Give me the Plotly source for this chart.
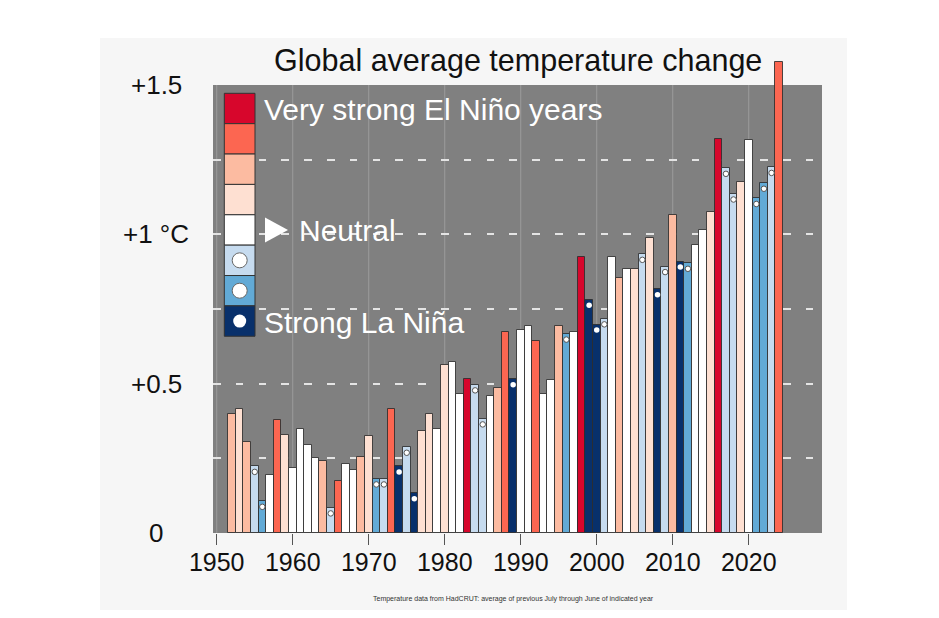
import plotly.graph_objects as go

# ---------------- data ----------------
years = list(range(1952, 2025))
anomaly = [
    0.397, 0.414, 0.304, 0.223, 0.106, 0.194, 0.377, 0.327, 0.217, 0.348,
    0.295, 0.250, 0.240, 0.084, 0.174, 0.231, 0.211, 0.253, 0.324, 0.181,
    0.181, 0.415, 0.223, 0.287, 0.133, 0.343, 0.400, 0.348, 0.562, 0.573,
    0.467, 0.514, 0.496, 0.382, 0.459, 0.484, 0.673, 0.515, 0.680, 0.693,
    0.642, 0.467, 0.512, 0.693, 0.666, 0.672, 0.925, 0.781, 0.698, 0.717,
    0.923, 0.853, 0.884, 0.883, 0.933, 0.988, 0.816, 0.892, 1.065, 0.909,
    0.903, 0.963, 1.015, 1.075, 1.319, 1.221, 1.135, 1.175, 1.316, 1.120,
    1.171, 1.224, 1.576,
]
# ENSO class: 1 = very strong El Nino ... 5 = neutral ... 8 = strong La Nina
enso_class = [
    3, 4, 3, 6, 7, 5, 2, 4, 5, 5,
    5, 5, 3, 6, 2, 5, 5, 3, 4, 7,
    6, 2, 8, 6, 8, 4, 4, 5, 4, 5,
    5, 1, 6, 6, 5, 3, 2, 8, 5, 5,
    2, 5, 5, 3, 7, 5, 1, 8, 8, 6,
    5, 3, 5, 4, 6, 4, 8, 6, 3, 8,
    7, 5, 5, 4, 1, 6, 6, 4, 5, 7,
    7, 6, 2,
]
class_colors = ["#d7062c", "#fc6651", "#fcbba1", "#fee0d2",
                "#ffffff", "#c6dbef", "#62aad6", "#08306b"]
legend_labels = {1: "Very strong El Niño years", 5: "Neutral", 8: "Strong La Niña"}
x_tick_vals = [1950, 1960, 1970, 1980, 1990, 2000, 2010, 2020]
y_grid_vals = [0.25, 0.5, 0.75, 1.0, 1.25]
y_label_vals = [0, 0.5, 1.0, 1.5]
y_label_text = ["0", "+0.5", "+1 °C", "+1.5"]
title_text = "Global average temperature change"
footnote_text = "Temperature data from HadCRUT: average of previous July through June of indicated year"

# ---------------- layout geometry ----------------
W, H = 939, 618
ML, MR, MT, MB = 213, 117, 40, 85
PW, PH = W - ML - MR, H - MT - MB
PANEL_TOP_PX = 85           # grey panel top (value 1.5)
PANEL_MAX = 1.5
px_per_unit = (H - MB - PANEL_TOP_PX) / PANEL_MAX
Y_TOP = PH / px_per_unit     # axis range top so the tall 2024 bar can rise over the panel
FONT = "Liberation Sans, Arial, Helvetica, sans-serif"


def px(xp):
    return (xp - ML) / PW


def py(yp):
    return (H - MB - yp) / PH


fig = go.Figure()

bar_colors = [class_colors[c - 1] for c in enso_class]
fig.add_trace(go.Bar(
    x=years, y=anomaly, width=1,
    marker=dict(color=bar_colors, line=dict(color="rgba(45,45,45,0.85)", width=1)),
    hoverinfo="x+y",
))

# dots on La Nina bars
dot_x, dot_y, dot_lw = [], [], []
for yr, v, c in zip(years, anomaly, enso_class):
    if c >= 6:
        dot_x.append(yr)
        dot_y.append(v - 5.5 / px_per_unit)
        dot_lw.append(0 if c == 8 else 1)
fig.add_trace(go.Scatter(
    x=dot_x, y=dot_y, mode="markers",
    marker=dict(size=5.5, color="white", line=dict(color="#555555", width=dot_lw)),
    hoverinfo="skip",
))

shapes = []
# off-white card
shapes.append(dict(type="rect", xref="paper", yref="paper", layer="below",
                   x0=px(100), x1=px(847), y0=py(610), y1=py(38),
                   fillcolor="#f6f6f6", line=dict(width=0)))
# grey panel up to 1.5
shapes.append(dict(type="rect", xref="paper", yref="y", layer="below",
                   x0=0, x1=1, y0=0, y1=PANEL_MAX, fillcolor="#808080", line=dict(width=0)))
# vertical decade grid lines inside the panel
for xv in x_tick_vals:
    shapes.append(dict(type="line", xref="x", yref="y", layer="below",
                       x0=xv, x1=xv, y0=0, y1=PANEL_MAX,
                       line=dict(color="#9c9c9c", width=1)))

annotations = []
# legend boxes
box_x0, box_x1 = px(224.3), px(255)
box_top, box_h = 93.3, 30.37
for i, col in enumerate(class_colors):
    t = box_top + i * box_h
    shapes.append(dict(type="rect", xref="paper", yref="paper", layer="above",
                       x0=box_x0, x1=box_x1, y0=py(t + box_h), y1=py(t),
                       fillcolor=col, line=dict(color="#333333", width=1)))
    cls = i + 1
    cy = t + box_h / 2
    if cls >= 6:
        r = 7.5 if cls < 8 else 6.5
        shapes.append(dict(type="circle", xref="paper", yref="paper", layer="above",
                           x0=px(239.7 - r), x1=px(239.7 + r), y0=py(cy + r), y1=py(cy - r),
                           fillcolor="white",
                           line=dict(color="#666666", width=1 if cls < 8 else 0)))
    if cls in legend_labels:
        tx = 297 if cls == 5 else 262
        annotations.append(dict(xref="paper", yref="paper", x=px(tx), y=py(cy + 1),
                                xanchor="left", yanchor="middle", showarrow=False,
                                text=legend_labels[cls],
                                font=dict(family=FONT, size=30, color="white")))
        if cls == 5:
            shapes.append(dict(type="path", xref="paper", yref="paper", layer="above",
                               path=f"M {px(265)},{py(cy - 12.5)} L {px(265)},{py(cy + 12.5)} "
                                    f"L {px(288)},{py(cy)} Z",
                               fillcolor="white", line=dict(width=0)))

# y labels (centred)
for v, t in zip(y_label_vals, y_label_text):
    annotations.append(dict(xref="paper", yref="y", x=px(156), y=v,
                            xanchor="center", yanchor="middle", showarrow=False,
                            text=t, font=dict(family=FONT, size=26, color="#111111")))

annotations.append(dict(xref="paper", yref="paper", x=px(518), y=py(60),
                        xanchor="center", yanchor="middle", showarrow=False,
                        text=title_text, font=dict(family=FONT, size=30.5, color="#111111")))
annotations.append(dict(xref="paper", yref="paper", x=px(513), y=py(599),
                        xanchor="center", yanchor="middle", showarrow=False,
                        text=footnote_text, font=dict(family=FONT, size=7, color="#333333")))

fig.update_layout(
    width=W, height=H,
    margin=dict(l=ML, r=MR, t=MT, b=MB, pad=0),
    paper_bgcolor="white", plot_bgcolor="rgba(0,0,0,0)",
    showlegend=False, bargap=0,
    shapes=shapes, annotations=annotations,
    xaxis=dict(range=[1949.51, 2029.64], tickvals=x_tick_vals,
               showgrid=False,
               ticks="outside", ticklen=11, tickcolor="#555555", tickwidth=1,
               ticklabelstandoff=-4,
               tickfont=dict(family=FONT, size=25, color="#111111"),
               showline=False, zeroline=False, fixedrange=True),
    yaxis=dict(range=[0, Y_TOP], tickvals=y_grid_vals, showticklabels=False,
               showgrid=True, gridcolor="#e4e4e4", gridwidth=1.5, griddash="7.6px,15.2px",
               ticks="", showline=False, zeroline=False, fixedrange=True),
)

fig.write_html("out.html")
